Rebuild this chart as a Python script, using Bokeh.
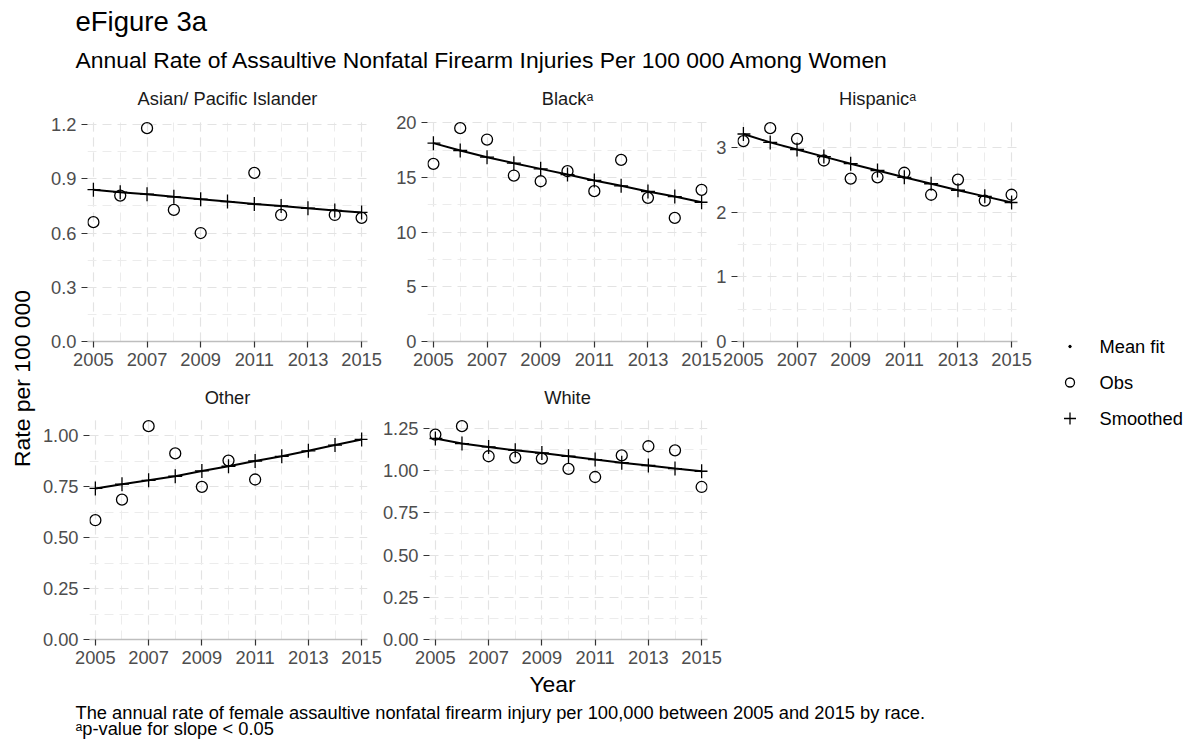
import math
import numpy as np
from bokeh.plotting import figure
from bokeh.models import Range1d, FixedTicker, NumeralTickFormatter, Spacer
from bokeh.layouts import row, column
from bokeh.core.properties import value
from bokeh.embed import file_html
from bokeh.resources import INLINE

NaN = float("nan")

# ---------------- data ----------------
years = [2005, 2006, 2007, 2008, 2009, 2010, 2011, 2012, 2013, 2014, 2015]
year_major = [2005, 2007, 2009, 2011, 2013, 2015]

asian_obs = [0.66, 0.807, 1.18, 0.728, 0.60, NaN, 0.933, 0.70, NaN, 0.70, 0.684]
asian_smooth = [0.84, 0.826, 0.815, 0.80, 0.787, 0.774, 0.76, 0.75, 0.737, 0.725, 0.714]

black_obs = [16.24, 19.5, 18.46, 15.17, 14.65, 15.57, 13.74, 16.6, 13.13, 11.3, 13.86]
black_smooth = [18.13, 17.46, 16.85, 16.3, 15.78, 15.26, 14.72, 14.23, 13.71, 13.25, 12.73]

hisp_obs = [3.10, 3.30, 3.135, 2.80, 2.52, 2.54, 2.61, 2.27, 2.505, 2.18, 2.27]
hisp_smooth = [3.21, 3.08, 2.97, 2.86, 2.75, 2.645, 2.54, 2.44, 2.34, 2.245, 2.15]

other_obs = [0.586, 0.687, 1.048, 0.914, 0.75, 0.879, 0.786, NaN, NaN, NaN, NaN]
other_smooth = [0.742, 0.763, 0.782, 0.802, 0.828, 0.851, 0.877, 0.90, 0.927, 0.955, 0.983]

white_obs = [1.213, 1.263, 1.085, 1.077, 1.071, 1.01, 0.962, 1.09, 1.144, 1.12, 0.903]
white_smooth = [1.19, 1.16, 1.14, 1.12, 1.104, 1.085, 1.065, 1.047, 1.03, 1.012, 0.996]

asian_ticks = [0.0, 0.3, 0.6, 0.9, 1.2]
black_ticks = [0, 5, 10, 15, 20]
hisp_ticks = [0, 1, 2, 3]
other_ticks = [0.0, 0.25, 0.5, 0.75, 1.0]
white_ticks = [0.0, 0.25, 0.5, 0.75, 1.0, 1.25]

strip_labels = ["Asian/ Pacific Islander", "Black\u1d43", "Hispanic\u1d43", "Other", "White"]
legend_labels = ["Mean fit", "Obs", "Smoothed"]

title_text = "eFigure 3a"
subtitle_text = "Annual Rate of Assaultive Nonfatal Firearm Injuries Per 100 000 Among Women"
ylab_text = "Rate per 100 000"
xlab_text = "Year"
caption_lines = ["The annual rate of female assaultive nonfatal firearm injury per 100,000 between 2005 and 2015 by race.",
                 "\u1d43p-value for slope < 0.05"]

FONT = "Liberation Sans"
GRID_DASH = "9 6"
TICK_FS = "18.3px"
X0, X1 = 2004.78, 2015.22


def minor_of(ticks, top):
    step = ticks[1] - ticks[0]
    out = [t + step / 2 for t in ticks]
    return [m for m in out if m < top]


def panel(obs, smooth, ticks, fmt, width, height, left, right, top, bottom, shift=0):
    ymax = 1.05 * float(np.nanmax(np.array(obs + smooth, dtype=float)))
    p = figure(width=width, height=height,
               x_range=Range1d(X0, X1), y_range=Range1d(0, ymax),
               toolbar_location=None, output_backend="svg",
               min_border_left=left, min_border_right=right,
               min_border_top=top, min_border_bottom=bottom)
    if shift:
        p.margin = (0, 0, 0, -shift)
    p.outline_line_color = None
    p.background_fill_color = None
    p.border_fill_color = None

    p.xaxis.ticker = FixedTicker(ticks=year_major, minor_ticks=years)
    p.yaxis.ticker = FixedTicker(ticks=ticks, minor_ticks=minor_of(ticks, ymax))
    p.yaxis.formatter = NumeralTickFormatter(format=fmt)
    p.xaxis.formatter = NumeralTickFormatter(format="0")

    for ax in (p.xaxis, p.yaxis):
        ax.major_tick_line_color = "#333333"
        ax.major_tick_line_width = 1.2
        ax.major_tick_out = 6
        ax.major_tick_in = 0
        ax.minor_tick_line_color = None
        ax.major_label_text_font = FONT
        ax.major_label_text_font_size = TICK_FS
        ax.major_label_text_color = "#4D4D4D"
        ax.major_label_standoff = 5
    p.yaxis.axis_line_color = None
    p.xaxis.axis_line_color = "#BEBEBE"
    p.xaxis.axis_line_width = 1.5

    for g in (p.xgrid, p.ygrid):
        g.grid_line_color = "#E3E3E3"
        g.grid_line_width = 1.2
        g.grid_line_dash = GRID_DASH
        g.minor_grid_line_color = "#ECECEC"
        g.minor_grid_line_width = 1.0
        g.minor_grid_line_dash = GRID_DASH

    p.line(years, smooth, line_color="black", line_width=2)
    p.scatter(years, obs, marker="circle", size=11, fill_color=None,
              line_color="black", line_width=1.3)
    p.scatter(years, smooth, marker="cross", size=14, line_color="black", line_width=1.3)
    return p


def text_fig(width, height):
    f = figure(width=width, height=height, x_range=Range1d(0, width), y_range=Range1d(0, height),
               x_axis_type=None, y_axis_type=None,
               toolbar_location=None, output_backend="svg",
               min_border=0, min_border_left=0, min_border_right=0,
               min_border_top=0, min_border_bottom=0)
    f.grid.visible = False
    f.outline_line_color = None
    f.background_fill_color = None
    f.border_fill_color = None
    return f


def put_text(f, x, y_from_top, txt, size, color="black", align="left", angle=0.0):
    f.text(x=[x], y=[f.height - y_from_top], text=[txt],
           text_font=value(FONT), text_font_size=value(size), text_color=color,
           text_baseline="middle", text_align=align, angle=angle)


# ---------------- sizes ----------------
HEAD_H = 79
STRIP_H = 30
ROW1_H, ROW2_H = 268, 267
FOOT_OVER = 14
FOOT_H = 742 - HEAD_H - 2 * STRIP_H - ROW1_H - ROW2_H + FOOT_OVER
YLAB_W, LEG_W = 39, 146
W1, W2, W3 = 351, 353, 327
S2, S3 = 11, 19
GRID_W = W1 + W2 - S2 + W3 - S3
MID_H = 2 * STRIP_H + ROW1_H + ROW2_H

p1 = panel(asian_obs, asian_smooth, asian_ticks, "0.0", W1, ROW1_H, 48, 23, 8, 36)
p2 = panel(black_obs, black_smooth, black_ticks, "0", W2, ROW1_H, 48, 25, 8, 36, shift=S2)
p3 = panel(hisp_obs, hisp_smooth, hisp_ticks, "0", W3, ROW1_H, 24, 23, 8, 36, shift=S3)
p4 = panel(other_obs, other_smooth, other_ticks, "0.00", W1, ROW2_H, 48, 23, 8, 35)
p5 = panel(white_obs, white_smooth, white_ticks, "0.00", W2, ROW2_H, 48, 25, 8, 35, shift=S2)
sp = Spacer(width=W3 - S3, height=ROW2_H)

# facet strips (centres of the three panel columns, relative to the grid's left edge)
col_centres = [227 - YLAB_W, 567 - YLAB_W, 877 - YLAB_W]
strip1 = text_fig(GRID_W, STRIP_H)
for cx, lab in zip(col_centres, strip_labels[:3]):
    put_text(strip1, cx, 19, lab, "18.3px", color="#1A1A1A", align="center")
strip2 = text_fig(GRID_W, STRIP_H)
for cx, lab in zip(col_centres[:2], strip_labels[3:]):
    put_text(strip2, cx, 20, lab, "18.3px", color="#1A1A1A", align="center")

# header
header = text_fig(1186, HEAD_H)
put_text(header, 75, 20.5, title_text, "27.5px")
put_text(header, 75, 59, subtitle_text, "22.9px")

# y label
ylab = text_fig(YLAB_W, MID_H)
put_text(ylab, 21, 378 - HEAD_H, ylab_text, "22.9px", align="center", angle=math.pi / 2)

# legend
leg = text_fig(LEG_W, MID_H)
ly = [346 - HEAD_H, 382 - HEAD_H, 418 - HEAD_H]
kx = 1069.5 - (1186 - LEG_W)
tx = 1099 - (1186 - LEG_W)
leg.scatter([kx], [leg.height - ly[0]], marker="circle", size=2.5, fill_color="black", line_color="black")
leg.scatter([kx], [leg.height - ly[1]], marker="circle", size=9, fill_color=None, line_color="black", line_width=1.3)
leg.scatter([kx], [leg.height - ly[2]], marker="cross", size=12, line_color="black", line_width=1.3)
for yy, lab in zip(ly, legend_labels):
    put_text(leg, tx, yy, lab, "18.3px")

# footer (overlaps the bottom border of the lower panels, transparent)
foot_top = HEAD_H + MID_H - FOOT_OVER
footer = text_fig(1186, FOOT_H)
footer.margin = (-FOOT_OVER, 0, 0, 0)
put_text(footer, 552, 683 - foot_top, xlab_text, "22.9px", align="center")
put_text(footer, 75, 712 - foot_top, caption_lines[0], "18.3px")
put_text(footer, 75, 728 - foot_top, caption_lines[1], "18.3px")

grid = column(strip1, row(p1, p2, p3), strip2, row(p4, p5, sp))
layout = column(header, row(ylab, grid, leg), footer)

open("out.html", "w").write(file_html(layout, INLINE))
